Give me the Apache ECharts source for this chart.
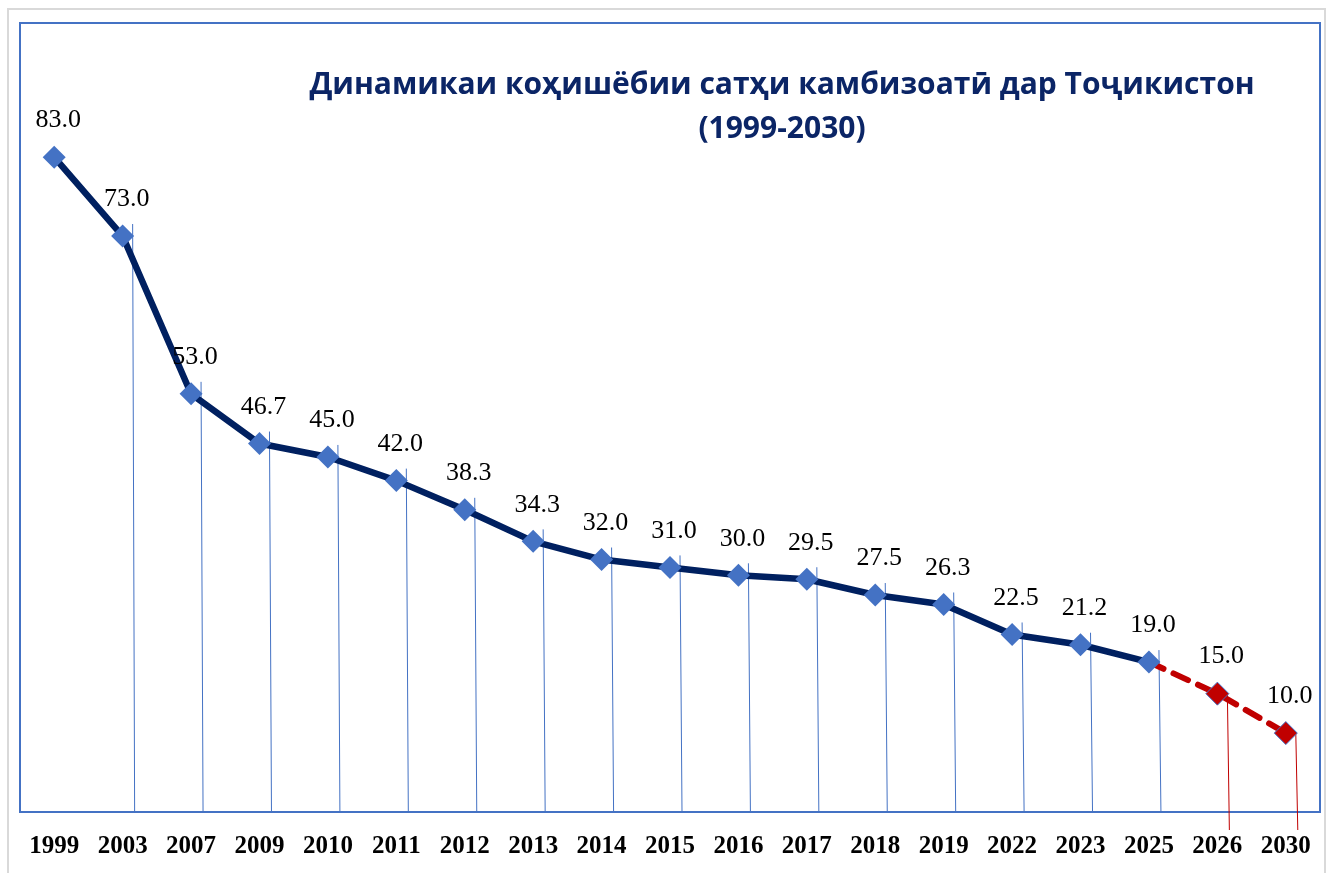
<!DOCTYPE html>
<html>
<head>
<meta charset="utf-8">
<script src="https://cdn.jsdelivr.net/npm/echarts@6/dist/echarts.min.js"></script>
<style>
  html, body { margin: 0; padding: 0; background: #fff; }
  #chart { width: 1329px; height: 873px; }
</style>
</head>
<body>
<div id="chart"></div>
<script>
// years on the x axis
var years = ['1999', '2003', '2007', '2009', '2010', '2011', '2012', '2013', '2014', '2015',
             '2016', '2017', '2018', '2019', '2022', '2023', '2025', '2026', '2030'];
// actual values (solid line), up to 2025
var actual = [83.0, 73.0, 53.0, 46.7, 45.0, 42.0, 38.3, 34.3, 32.0, 31.0,
              30.0, 29.5, 27.5, 26.3, 22.5, 21.2, 19.0, null, null];
// forecast (dashed red), starts at 2025
var forecast = [null, null, null, null, null, null, null, null, null, null,
                null, null, null, null, null, null, 19.0, 15.0, 10.0];
var allValues = [83.0, 73.0, 53.0, 46.7, 45.0, 42.0, 38.3, 34.3, 32.0, 31.0,
                 30.0, 29.5, 27.5, 26.3, 22.5, 21.2, 19.0, 15.0, 10.0];

var myChart = echarts.init(document.getElementById('chart'));

var lblStyle = {
  show: true,
  position: 'top',
  distance: 12,
  offset: [4, 0],
  color: '#000',
  fontFamily: 'Liberation Serif',
  fontSize: 26,
  formatter: function (p) { return p.value == null ? '' : Number(p.value).toFixed(1); }
};

var option = {
  backgroundColor: '#fff',
  animation: false,
  title: {
    text: 'Динамикаи коҳишёбии сатҳи камбизоатӣ дар Тоҷикистон\n(1999-2030)',
    left: 777,
    top: 58,
    textAlign: 'center',
    textStyle: {
      color: '#0b2566',
      fontFamily: 'Open Sans',
      fontWeight: 'bold',
      fontSize: 30,
      lineHeight: 44
    }
  },
  graphic: [{
    type: 'rect',
    shape: { x: 8, y: 9, width: 1317, height: 880 },
    style: { fill: 'none', stroke: '#d9d9d9', lineWidth: 2 },
    silent: true
  }],
  grid: {
    left: 20, right: 9, top: 23, bottom: 61,
    show: true,
    borderColor: '#4472c4',
    borderWidth: 2
  },
  xAxis: {
    type: 'category',
    data: years,
    boundaryGap: true,
    axisLine: { show: true, lineStyle: { color: '#4472c4', width: 2 } },
    axisTick: { show: false },
    axisLabel: {
      color: '#000',
      fontFamily: 'Liberation Serif',
      fontWeight: 'bold',
      fontSize: 25,
      margin: 22,
      interval: 0
    },
    splitLine: { show: false }
  },
  yAxis: {
    type: 'value',
    min: 0,
    max: 100,
    show: false,
    splitLine: { show: false }
  },
  series: [
    {
      // thin drop lines from the points down to the axis (none for 1999)
      type: 'custom',
      silent: true,
      z: 1,
      data: allValues.map(function (v, i) { return [i, v]; }),
      renderItem: function (params, api) {
        var i = api.value(0);
        if (i === 0) return null;
        var top = api.coord([i, api.value(1)]);
        var bottom = api.coord([i, 0]);
        var red = i >= 17;
        return {
          type: 'line',
          shape: { x1: top[0] + 10, y1: top[1] - (red ? 0 : 12), x2: top[0] + 12, y2: bottom[1] + (red ? 18 : 0) },
          style: { stroke: red ? '#c00000' : '#4472c4', lineWidth: 1 }
        };
      }
    },
    {
      name: 'forecast',
      type: 'line',
      data: forecast.map(function (v, i) {
        if (i === 16) return { value: v, symbol: 'none', label: { show: false } };
        return v;
      }),
      z: 3,
      symbol: 'diamond',
      symbolSize: 23,
      lineStyle: { color: '#c00000', width: 6, type: [16, 11], cap: 'round' },
      itemStyle: { color: '#c00000', borderColor: '#4472c4', borderWidth: 1 },
      label: lblStyle
    },
    {
      name: 'actual',
      type: 'line',
      data: actual,
      z: 4,
      symbol: 'diamond',
      symbolSize: 23,
      lineStyle: { color: '#002060', width: 6.5 },
      itemStyle: { color: '#4472c4', borderWidth: 0 },
      label: lblStyle
    }
  ]
};

myChart.setOption(option);
</script>
</body>
</html>
